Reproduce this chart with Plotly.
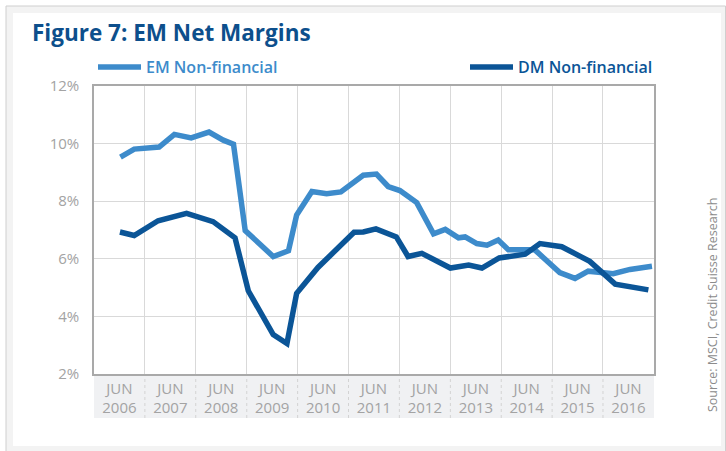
import plotly.graph_objects as go
import pandas as pd

# ---- data ----
em_years = [2006.52, 2006.79, 2007.28, 2007.58, 2007.91, 2008.26, 2008.54, 2008.74,
            2008.97, 2009.52, 2009.82, 2009.98, 2010.28, 2010.57, 2010.85, 2011.29,
            2011.55, 2011.78, 2012.01, 2012.34, 2012.67, 2012.90, 2013.16, 2013.29,
            2013.52, 2013.72, 2013.94, 2014.14, 2014.66, 2015.15, 2015.45, 2015.71,
            2016.20, 2016.53, 2016.96]
em_values = [9.53, 9.81, 9.88, 10.32, 10.20, 10.40, 10.12, 9.98,
             6.98, 6.08, 6.28, 7.52, 8.34, 8.26, 8.32, 8.90,
             8.94, 8.51, 8.37, 7.95, 6.87, 7.02, 6.73, 6.76,
             6.53, 6.47, 6.65, 6.31, 6.31, 5.52, 5.32, 5.57,
             5.48, 5.63, 5.74]

dm_years = [2006.51, 2006.79, 2007.26, 2007.82, 2008.34, 2008.77, 2009.03, 2009.52,
            2009.79, 2009.98, 2010.40, 2011.11, 2011.29, 2011.54, 2011.94, 2012.17,
            2012.44, 2012.70, 2013.00, 2013.36, 2013.62, 2013.96, 2014.47, 2014.76,
            2015.19, 2015.74, 2016.24, 2016.89]
dm_values = [6.93, 6.81, 7.32, 7.58, 7.29, 6.73, 4.89, 3.37,
             3.06, 4.80, 5.70, 6.92, 6.93, 7.04, 6.76, 6.08,
             6.19, 5.93, 5.68, 5.78, 5.68, 6.03, 6.16, 6.53,
             6.42, 5.91, 5.12, 4.92]

year_bounds = list(range(2006, 2018))
y_ticks = [2, 4, 6, 8, 10, 12]
y_ticktext = ["2%", "4%", "6%", "8%", "10%", "12%"]

series_names = ["EM Non-financial", "DM Non-financial"]
title_text = "Figure 7: EM Net Margins"
source_text = "Source: MSCI, Credit Suisse Research"

EM_COLOR = "#3d8bcb"
DM_COLOR = "#0b5597"
TITLE_COLOR = "#0d4f8c"
GRAY_TXT = "#a3a3a3"
FONT = "Open Sans"


def to_dates(years):
    out = []
    for y in years:
        yr = int(y)
        frac = y - yr
        start = pd.Timestamp(year=yr, month=1, day=1)
        end = pd.Timestamp(year=yr + 1, month=1, day=1)
        out.append(start + (end - start) * frac)
    return out


W, H = 726, 451
L, R, T, B = 94, 72, 86, 77
pw, ph = W - L - R, H - T - B


def px_x(px):
    return (px - L) / pw


def px_y(py):
    return (H - B - py) / ph


fig = go.Figure()
fig.add_trace(go.Scatter(
    x=to_dates(em_years), y=em_values, mode="lines",
    name=f"<span style='color:{EM_COLOR}'>{series_names[0]}</span>",
    line=dict(color=EM_COLOR, width=5.5, shape="linear"),
    legend="legend",
))
fig.add_trace(go.Scatter(
    x=to_dates(dm_years), y=dm_values, mode="lines",
    name=f"<span style='color:{DM_COLOR}'>{series_names[1]}</span>",
    line=dict(color=DM_COLOR, width=5.5, shape="linear"),
    legend="legend2",
))

shapes = [
    # outer frame
    dict(type="rect", xref="paper", yref="paper", layer="below",
         x0=px_x(6), x1=px_x(725.5), y0=px_y(470), y1=px_y(6),
         fillcolor="#f3f3f3", line=dict(color="#cfcfcf", width=1)),
    dict(type="rect", xref="paper", yref="paper", layer="below",
         x0=px_x(13), x1=px_x(721), y0=px_y(446), y1=px_y(13),
         fillcolor="white", line=dict(width=0)),
    # x label band
    dict(type="rect", xref="x domain", yref="paper", layer="below",
         x0=0, x1=1, y0=px_y(418), y1=0,
         fillcolor="#f0f1f3", line=dict(width=0)),
]
for yb in year_bounds[1:-1]:
    d = pd.Timestamp(year=yb, month=1, day=1)
    shapes.append(dict(type="line", xref="x", yref="paper", layer="below",
                       x0=d, x1=d, y0=px_y(418), y1=0,
                       line=dict(color="#d3d3d3", width=1, dash="dot")))

legend_common = dict(orientation="h", xref="paper", yref="paper",
                     xanchor="left", yanchor="middle", itemwidth=43,
                     font=dict(family=FONT, size=16, weight=600),
                     bgcolor="rgba(0,0,0,0)", itemclick=False,
                     itemdoubleclick=False)

fig.update_layout(
    width=W, height=H,
    margin=dict(l=L, r=R, t=T, b=B),
    paper_bgcolor="white",
    plot_bgcolor="rgba(0,0,0,0)",
    font=dict(family=FONT, color=GRAY_TXT, size=15),
    title=dict(text=f"<b>{title_text}</b>", xref="container", yref="container",
               x=32 / W, y=1 - 33 / H, xanchor="left", yanchor="middle",
               font=dict(family=FONT, size=22.5, color=TITLE_COLOR)),
    showlegend=True,
    legend=dict(x=px_x(93), y=px_y(67), **legend_common),
    legend2=dict(x=px_x(465), y=px_y(67), **legend_common),
    shapes=shapes,
    annotations=[dict(text=source_text, xref="paper", yref="paper",
                      x=px_x(712), y=px_y(305), textangle=-90,
                      showarrow=False, xanchor="center", yanchor="middle",
                      font=dict(family=FONT, size=12.5, color="#8c8c8c"))],
)

fig.update_xaxes(
    type="date",
    range=[pd.Timestamp(year=year_bounds[0], month=1, day=1),
           pd.Timestamp(year=year_bounds[-1], month=1, day=1)],
    tick0=pd.Timestamp(year=year_bounds[0], month=1, day=1), dtick="M12",
    ticklabelmode="period", tickformat="JUN<br>%Y",
    showgrid=True, gridcolor="#d9d9d9", gridwidth=1,
    showline=True, linecolor="#a9a9a9", linewidth=1.5, mirror=True,
    ticks="", tickfont=dict(size=15, color=GRAY_TXT),
    zeroline=False,
)
fig.update_yaxes(
    range=[2, 12], tickvals=y_ticks, ticktext=y_ticktext,
    showgrid=True, gridcolor="#d9d9d9", gridwidth=1,
    showline=True, linecolor="#a9a9a9", linewidth=1.5, mirror=True,
    ticks="outside", ticklen=10, tickcolor="rgba(0,0,0,0)",
    tickfont=dict(size=15, color=GRAY_TXT), zeroline=False,
)

fig.write_html("out.html", config={"displayModeBar": False},
               post_script="document.body.style.margin='0px';")
